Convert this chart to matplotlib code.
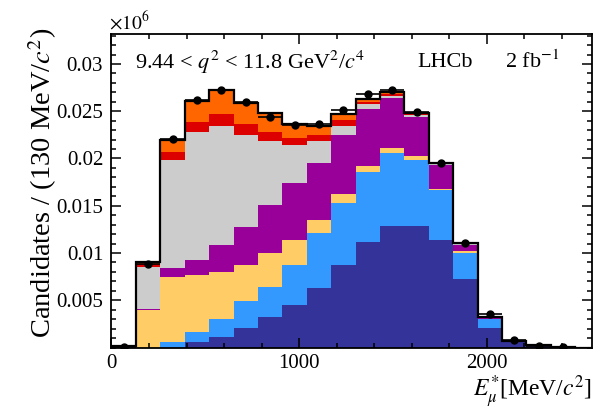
import numpy as np
import matplotlib
matplotlib.use("Agg")
import matplotlib.pyplot as plt
from matplotlib.ticker import MultipleLocator, FixedLocator, FixedFormatter

# ---------------- data (values in units of 1e-3) ----------------
bin_width = 130
bin_edges = np.arange(0, 2600 + bin_width, bin_width)
unit = 1e-3

navy   = [0, 0, 0, 0.61, 1.14, 2.10, 3.26, 4.49, 6.26, 8.73, 11.20, 12.85, 12.85, 11.40, 7.30, 2.02, 0.60, 0.20, 0.04, 0]
blue   = [0, 0, 0.60, 1.01, 1.86, 2.85, 3.17, 4.21, 5.84, 6.52, 7.40, 7.75, 6.95, 5.26, 2.73, 0.96, 0.05, 0, 0, 0]
yellow = [0, 4.00, 6.90, 6.05, 5.00, 3.75, 3.53, 2.70, 1.40, 0.99, 0.60, 0.50, 0.50, 0.14, 0.21, 0.07, 0.01, 0, 0, 0]
purple = [0, 0.10, 0.87, 1.58, 2.85, 4.10, 5.14, 6.00, 6.00, 6.26, 6.00, 5.30, 4.05, 2.50, 0.60, 0.15, 0.02, 0, 0, 0]
gray   = [0.10, 4.45, 11.43, 13.55, 12.55, 9.70, 6.70, 4.00, 2.30, 0.90, 0.56, 0.20, 0.25, 0.10, 0.11, 0.02, 0.01, 0, 0, 0]
red    = [0, 0.25, 0.90, 1.10, 1.30, 1.20, 1.00, 0.80, 0.70, 0.70, 0.24, 0.20, 0.10, 0.05, 0.05, 0.02, 0, 0, 0, 0]
orange = [0.05, 0.25, 1.30, 2.20, 2.50, 2.20, 2.00, 1.50, 0.90, 0.60, 0.30, 0.20, 0.10, 0.05, 0.10, 0.02, 0.01, 0.02, 0.01, 0]

data     = [0.10, 8.80, 22.10, 26.20, 27.30, 26.00, 24.40, 23.50, 23.70, 25.10, 26.80, 27.20, 24.90, 19.50, 11.10, 3.50, 0.79, 0.19, 0.09, np.nan]
data_err = [0.05, 0.20, 0.25, 0.30, 0.30, 0.30, 0.30, 0.30, 0.30, 0.30, 0.30, 0.30, 0.30, 0.25, 0.20, 0.10, 0.05, 0.03, 0.02, np.nan]

layers = [navy, blue, yellow, purple, gray, red, orange]
colors = ["#333399", "#3399ff", "#ffcc66", "#990099", "#cccccc", "#dd0000", "#ff6600"]

xtick_major = [0, 1000, 2000]
xtick_labels = ["0", "1000", "2000"]
ytick_major = [0.005, 0.01, 0.015, 0.02, 0.025, 0.03]
ytick_labels = ["0.005", "0.01", "0.015", "0.02", "0.025", "0.03"]

# ---------------- style ----------------
plt.rcParams["font.family"] = ["Liberation Serif", "DejaVu Serif"]
plt.rcParams["mathtext.fontset"] = "stix"

fig = plt.figure(figsize=(6.15, 4.11), dpi=100)
ax = fig.add_axes([0.1813, 0.1545, 0.9626 - 0.1813, 0.9165 - 0.1545])

bottom = np.zeros(len(bin_edges) - 1)
for vals, col in zip(layers, colors):
    v = np.asarray(vals) * unit
    ax.stairs(bottom + v, bin_edges, baseline=bottom, fill=True, color=col, linewidth=0)
    bottom = bottom + v

ax.stairs(bottom, bin_edges, baseline=0, fill=False, color="black", linewidth=1.6)

centers = 0.5 * (bin_edges[:-1] + bin_edges[1:])
ax.errorbar(centers, np.asarray(data) * unit, yerr=np.asarray(data_err) * unit,
            xerr=bin_width / 2, fmt="o", color="black", markersize=5,
            elinewidth=1.2, capsize=0, zorder=5)

ax.set_xlim(0, 2560)
ax.set_ylim(0, 0.03314)

ax.xaxis.set_major_locator(FixedLocator(xtick_major))
ax.xaxis.set_major_formatter(FixedFormatter(xtick_labels))
ax.xaxis.set_minor_locator(MultipleLocator(200))
ax.yaxis.set_major_locator(FixedLocator(ytick_major))
ax.yaxis.set_major_formatter(FixedFormatter(ytick_labels))
ax.yaxis.set_minor_locator(MultipleLocator(0.001))

ax.tick_params(which="both", direction="in", top=True, right=True, width=1.1, labelsize=15)
ax.tick_params(which="major", length=7.5)
ax.tick_params(which="minor", length=3.8)
ax.tick_params(axis="x", pad=5)
ax.tick_params(axis="y", pad=6)
for s in ax.spines.values():
    s.set_linewidth(1.3)

ax.set_ylabel(r"Candidates / (130 MeV/$c^2$)", fontsize=20.5)
ax.yaxis.set_label_coords(-0.11, 0.527)
ax.set_xlabel(r"$E_{\mu}^{*}$[MeV/$c^2$]", fontsize=17, ha="right", va="center")
ax.xaxis.set_label_coords(1.0, -0.14)

ax.text(0.049, 0.911, r"9.44 < $q^2$ < 11.8 GeV$^2$/$c^4$", transform=ax.transAxes,
        fontsize=16, va="center", ha="left")
ax.text(0.636, 0.911, "LHCb", transform=ax.transAxes, fontsize=16, va="center", ha="left")
ax.text(0.819, 0.911, r"2 fb$^{-1}$", transform=ax.transAxes, fontsize=16, va="center", ha="left")
ax.text(-0.005, 1.005, r"$\times10^{6}$", transform=ax.transAxes, fontsize=14, va="bottom", ha="left")

fig.savefig("out.png", dpi=100)
